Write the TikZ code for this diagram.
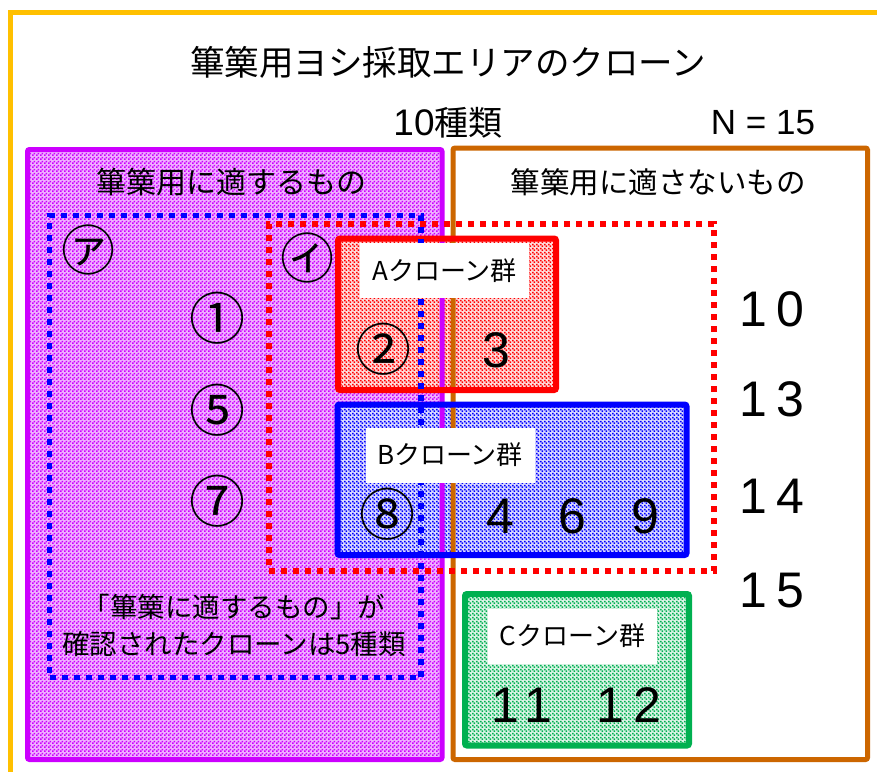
\documentclass[tikz,border=0pt]{standalone}
\usepackage{fontspec}
\setmainfont{Noto Sans CJK JP}
\newfontfamily\numfont{Liberation Sans}
\newfontfamily\widenum[LetterSpace=18]{Liberation Sans}
\usetikzlibrary{patterns.meta}

\definecolor{framegold}{HTML}{FFC000}
\definecolor{suitpurple}{HTML}{CC00FF}
\definecolor{unsuitbrown}{HTML}{CC6600}
\definecolor{groupgreen}{HTML}{00B050}

% fine checker, two phases so overlapping areas fill each other's gaps
\tikzdeclarepattern{
  name=checkfore, type=uncolored,
  bottom left={(0pt,0pt)}, top right={(4pt,4pt)}, tile size={(4pt,4pt)},
  code={\fill (0pt,0pt) rectangle (2pt,2pt); \fill (2pt,2pt) rectangle (4pt,4pt);}
}
\tikzdeclarepattern{
  name=checkback, type=uncolored,
  bottom left={(0pt,0pt)}, top right={(4pt,4pt)}, tile size={(4pt,4pt)},
  code={\fill (2pt,0pt) rectangle (4pt,2pt); \fill (0pt,2pt) rectangle (2pt,4pt);}
}

\tikzset{
  area/.style={inner sep=0pt, outer sep=0pt},
  hatch/.style={fill=#1!30, postaction={pattern={checkfore}, pattern color=#1}},
  hatchback/.style={fill=#1!15, postaction={pattern={checkback}, pattern color=#1}},
  edge/.style={draw=#1, line width=5pt, rounded corners=2pt},
  dotbox/.style={draw=#1, line width=5.5pt, dash pattern=on 6pt off 6pt,
    inner sep=0pt, outer sep=0pt},
  grouplabel/.style={fill=white, inner sep=0pt, minimum width=169pt,
    minimum height=55pt, font=\fontsize{26pt}{26pt}\selectfont},
  circled/.style={inner sep=0pt, font=\fontsize{56pt}{56pt}\selectfont},
  kana/.style={inner sep=0pt, font=\fontsize{54pt}{54pt}\selectfont},
  bignum/.style={inner sep=0pt, font=\widenum\fontsize{50pt}{50pt}\selectfont},
  heading/.style={inner sep=0pt, font=\fontsize{30pt}{30pt}\selectfont}
}

\begin{document}
\begin{tikzpicture}[x=1pt,y=-1pt]
\clip (0,0) rectangle (877,771);
\fill[white] (0,0) rectangle (877,771);

% outer frame
\draw[framegold, line width=5pt] (10,12.5) rectangle (900,800);

\node[inner sep=0pt, font=\fontsize{34.5pt}{34.5pt}\selectfont] (title) at (448,62)
  {篳篥用ヨシ採取エリアのクローン};
\node[inner sep=0pt, font=\fontsize{34pt}{34pt}\selectfont] (kinds) at (448,123)
  {{\numfont\fontsize{37pt}{37pt}\selectfont 10}種類};
\node[inner sep=0pt, font=\numfont\fontsize{35pt}{35pt}\selectfont] (count) at (763,123)
  {N = 15};

% fills
\node[area, minimum width=414.5pt, minimum height=610pt, hatch=suitpurple]
  (suited) at (234.75,454.5) {};
\node[area, minimum width=414.5pt, minimum height=611.5pt] (unsuited) at (660.25,453.75) {};
\node[area, minimum width=218pt, minimum height=151.5pt, hatchback=red]
  (groupA) at (447,314.25) {};
\node[area, minimum width=349pt, minimum height=150.5pt, hatchback=blue]
  (groupB) at (512,479.75) {};
\node[area, minimum width=224pt, minimum height=151.5pt, hatchback=groupgreen]
  (groupC) at (577,669.75) {};

% outlines
\draw[edge=suitpurple] (suited.north west) rectangle (suited.south east);
\draw[edge=unsuitbrown] (unsuited.north west) rectangle (unsuited.south east);
\draw[edge=red, line width=6pt] (groupA.north west) rectangle (groupA.south east);
\draw[edge=blue, line width=6pt] (groupB.north west) rectangle (groupB.south east);
\draw[edge=groupgreen, line width=6pt] (groupC.north west) rectangle (groupC.south east);

\node[dotbox=blue, minimum width=371.5pt, minimum height=462pt] (confirmed) at (235.25,446.5) {};
\node[dotbox=red, minimum width=445pt, minimum height=347pt] (kindI) at (491.5,397.5) {};

\node[heading] (suitedlabel) at (231,182) {篳篥用に適するもの};
\node[heading, font=\fontsize{29.5pt}{29.5pt}\selectfont] (unsuitedlabel) at (658,182) {篳篥用に適さないもの};

\node[kana] (kindAlabel) at (88,250) {㋐};
\node[kana] (kindIlabel) at (307,258) {㋑};

\node[circled] (c1) at (217.5,318) {①};
\node[circled] (c5) at (217.5,410) {⑤};
\node[circled] (c7) at (217.5,501) {⑦};

\node[grouplabel] (labelA) at (444.5,270.5) {Aクローン群};
\node[circled] (c2) at (383,349) {②};
\node[bignum] (n3) at (496,350) {3};

\node[grouplabel] (labelB) at (450,455) {Bクローン群};
\node[circled] (c8) at (387,514) {⑧};
\node[bignum] (n4) at (500,516) {4};
\node[bignum] (n6) at (572,516) {6};
\node[bignum] (n9) at (645,516) {9};

\node[grouplabel] (labelC) at (572.5,636) {Cクローン群};
\node[bignum] (n11) at (522,705) {11};
\node[bignum] (n12) at (629,705) {12};

\node[bignum] (n10) at (772,309) {10};
\node[bignum] (n13) at (772,399) {13};
\node[bignum] (n14) at (772,496) {14};
\node[bignum] (n15) at (772,591) {15};

\node[inner sep=0pt, align=center, font=\fontsize{27.5pt}{37pt}\selectfont] (note) at (234,625)
  {「篳篥に適するもの」が\\確認されたクローンは5種類};
\end{tikzpicture}
\end{document}
